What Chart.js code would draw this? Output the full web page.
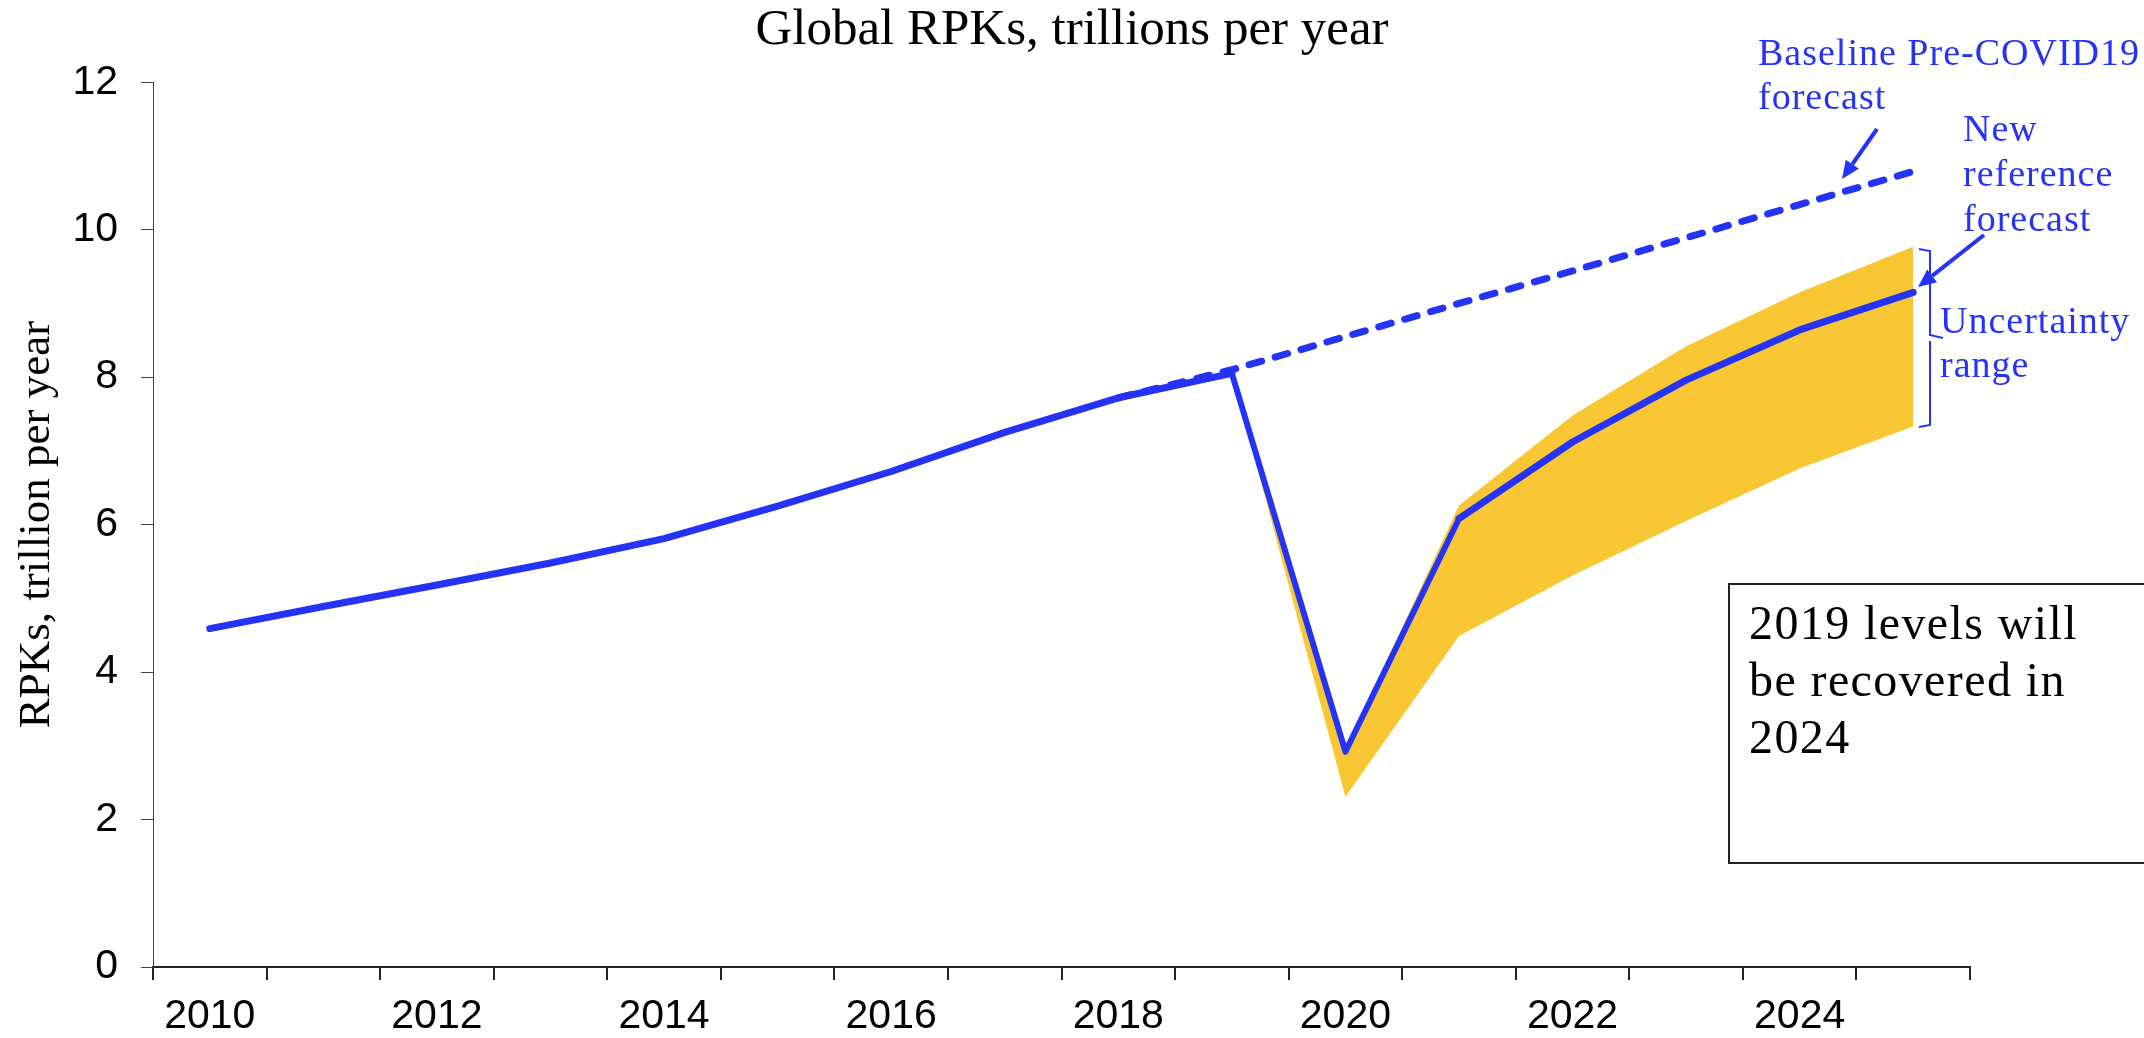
<!DOCTYPE html>
<html>
<head>
<meta charset="utf-8">
<script src="https://cdn.jsdelivr.net/npm/chart.js@4.4.1/dist/chart.umd.min.js"></script>
<style>
  body { margin: 0; background: #fff; }
  #wrap { width: 2144px; height: 1038px; }
</style>
</head>
<body>
<div id="wrap"><canvas id="rpkChart"></canvas></div>
<script>
// categories + tick labels
const years = ['2010','2011','2012','2013','2014','2015','2016','2017','2018','2019','2020','2021','2022','2023','2024','2025'];
const xTickLabels = ['2010','','2012','','2014','','2016','','2018','','2020','','2022','','2024',''];
const yTicks = [0, 2, 4, 6, 8, 10, 12];

// series, trillion RPKs
const referenceRpk = [4.59, 4.89, 5.18, 5.48, 5.81, 6.25, 6.72, 7.25, 7.72, 8.05, 2.92, 6.08, 7.12, 7.96, 8.64, 9.15];
const baselineRpk = [null, null, null, null, null, null, null, null, 7.72, 8.10, 8.55, 9.00, 9.44, 9.89, 10.34, 10.79];
const rangeHigh = [null, null, null, null, null, null, null, null, null, 8.05, 2.95, 6.26, 7.48, 8.42, 9.15, 9.77];
const rangeLow = [null, null, null, null, null, null, null, null, null, 8.05, 2.31, 4.49, 5.31, 6.05, 6.76, 7.33];

const BLUE = '#2433F5';
const YELLOW = '#F9C734';

function arrow(ctx, x1, y1, x2, y2) {
    const ang = Math.atan2(y2 - y1, x2 - x1);
    const len = 18, half = 8;
    const bx = x2 - len * Math.cos(ang), by = y2 - len * Math.sin(ang);
    ctx.beginPath();
    ctx.moveTo(x1, y1);
    ctx.lineTo(bx, by);
    ctx.stroke();
    ctx.beginPath();
    ctx.moveTo(x2, y2);
    ctx.lineTo(bx + half * Math.sin(ang), by - half * Math.cos(ang));
    ctx.lineTo(bx - half * Math.sin(ang), by + half * Math.cos(ang));
    ctx.closePath();
    ctx.fill();
}

const notesPlugin = {
    id: 'notes',
    afterDraw(chart) {
        const ctx = chart.ctx;
        ctx.save();
        ctx.textAlign = 'left';
        ctx.textBaseline = 'alphabetic';

        // blue labels
        ctx.fillStyle = BLUE;
        ctx.font = '38px "Liberation Serif"';
        ctx.letterSpacing = '1px';
        ctx.fillText('Baseline Pre-COVID19', 1758, 65);
        ctx.fillText('forecast', 1758, 109);
        ctx.fillText('New', 1963, 141);
        ctx.fillText('reference', 1963, 186);
        ctx.fillText('forecast', 1963, 231);
        ctx.fillText('Uncertainty', 1940, 333);
        ctx.fillText('range', 1940, 377);

        // arrows
        ctx.strokeStyle = BLUE;
        ctx.lineWidth = 4;
        arrow(ctx, 1877, 129, 1842, 179);
        arrow(ctx, 1984, 235, 1918, 287);

        // bracket for uncertainty range
        ctx.lineWidth = 2;
        ctx.beginPath();
        ctx.moveTo(1919, 249);
        ctx.lineTo(1930, 251);
        ctx.lineTo(1930, 335);
        ctx.lineTo(1943, 338);
        ctx.moveTo(1930, 341);
        ctx.lineTo(1930, 425);
        ctx.lineTo(1919, 427);
        ctx.stroke();

        // text box
        ctx.fillStyle = '#fff';
        ctx.fillRect(1729, 584, 430, 279);
        ctx.strokeStyle = '#222';
        ctx.lineWidth = 2;
        ctx.strokeRect(1729, 584, 430, 279);
        ctx.fillStyle = '#000';
        ctx.font = '48px "Liberation Serif"';
        ctx.letterSpacing = '1.4px';
        ctx.fillText('2019 levels will', 1749, 639);
        ctx.fillText('be recovered in', 1749, 696);
        ctx.fillText('2024', 1749, 753);
        ctx.restore();
    }
};

new Chart('rpkChart', {
    type: 'line',
    data: {
        labels: years,
        datasets: [
            {
                label: 'New reference forecast',
                data: referenceRpk,
                borderColor: BLUE,
                borderWidth: 7,
                borderCapStyle: 'round',
                borderJoinStyle: 'round',
                pointRadius: 0,
                tension: 0,
                fill: false,
                segment: {
                    borderWidth: c => (c.p0DataIndex === 9 || c.p0DataIndex === 10) ? 6 : 7
                }
            },
            {
                label: 'Baseline Pre-COVID19 forecast',
                data: baselineRpk,
                borderColor: BLUE,
                borderWidth: 7,
                borderDash: [13, 14],
                borderCapStyle: 'round',
                pointRadius: 0,
                fill: false
            },
            {
                label: 'Uncertainty high',
                data: rangeHigh,
                borderWidth: 0,
                borderColor: 'rgba(0,0,0,0)',
                backgroundColor: YELLOW,
                pointRadius: 0,
                fill: '+1'
            },
            {
                label: 'Uncertainty low',
                data: rangeLow,
                borderWidth: 0,
                borderColor: 'rgba(0,0,0,0)',
                pointRadius: 0,
                fill: false
            }
        ]
    },
    options: {
        responsive: true,
        maintainAspectRatio: false,
        animation: false,
        layout: {
            padding: 0
        },
        plugins: {
            legend: { display: false },
            tooltip: { enabled: false },
            title: {
                display: true,
                text: 'Global RPKs, trillions per year',
                color: '#000',
                font: { family: 'Liberation Serif', size: 51, weight: 'normal' },
                padding: { top: 0, bottom: 21 }
            }
        },
        scales: {
            x: {
                type: 'category',
                offset: true,
                grid: {
                    offset: true,
                    drawOnChartArea: false,
                    drawTicks: true,
                    tickLength: 13,
                    color: '#222',
                    lineWidth: 2
                },
                border: { color: '#222', width: 2 },
                ticks: {
                    autoSkip: false,
                    maxRotation: 0,
                    color: '#000',
                    padding: 12,
                    font: { family: 'Liberation Sans', size: 41 },
                    callback: (v, i) => xTickLabels[i]
                },
                afterFit: s => { s.height = 71; }
            },
            y: {
                min: yTicks[0],
                max: yTicks[yTicks.length - 1],
                afterBuildTicks: s => { s.ticks = yTicks.map(v => ({ value: v })); },
                grid: {
                    drawOnChartArea: false,
                    drawTicks: true,
                    tickLength: 12,
                    color: '#444',
                    lineWidth: 1
                },
                border: { color: '#444', width: 1 },
                ticks: {
                    color: '#000',
                    padding: 23,
                    font: { family: 'Liberation Sans', size: 41 }
                },
                title: {
                    display: true,
                    text: 'RPKs, trillion per year',
                    color: '#000',
                    font: { family: 'Liberation Serif', size: 45, weight: 'normal' },
                    padding: { top: 10, bottom: 0 }
                },
                afterFit: s => { s.width = 153; }
            },
            // empty right-hand axis, only reserves the margin where the notes sit
            yRight: {
                position: 'right',
                min: 0,
                max: 12,
                grid: { display: false },
                border: { display: false },
                ticks: { display: false },
                afterFit: s => { s.width = 174; }
            }
        }
    },
    plugins: [notesPlugin]
});
</script>
</body>
</html>
